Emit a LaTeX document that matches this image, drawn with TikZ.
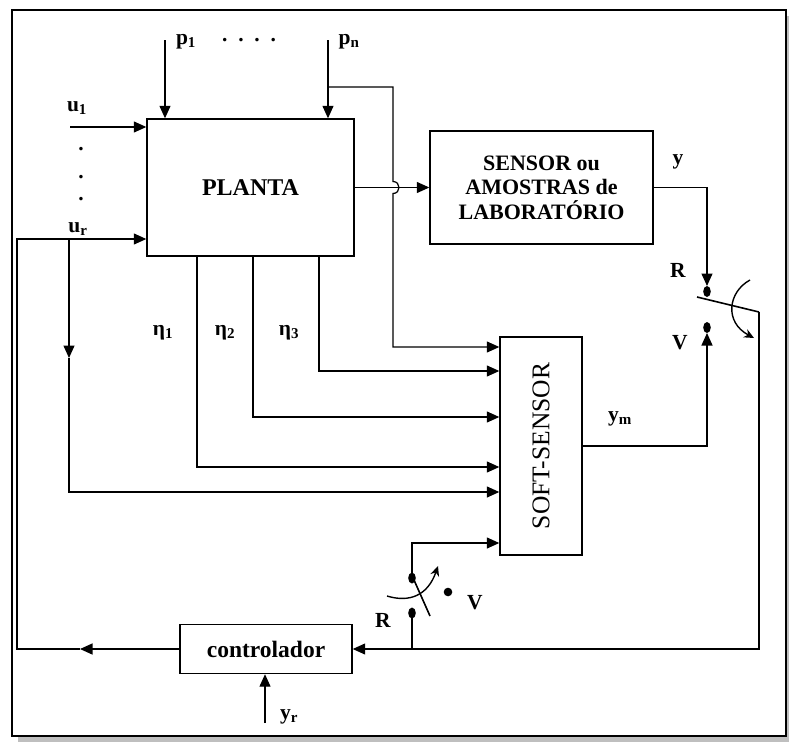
\documentclass[tikz,border=0pt]{standalone}
\usepackage{fontspec}
\setmainfont{Liberation Serif}
\usetikzlibrary{arrows.meta}
\begin{document}
\begin{tikzpicture}[x=1pt,y=-1pt,line width=1.25pt,
  arr/.style={-{Triangle[length=12.5pt,width=11pt]}},
  blk/.style={draw,line width=1.4pt,inner sep=0pt,align=center,font=\fontsize{22}{24.5}\selectfont\bfseries},
  lbl/.style={inner sep=0pt,font=\fontsize{21.5}{22}\selectfont\bfseries},
  gr/.style={inner sep=0pt,font=\fontsize{21.5}{22}\selectfont\bfseries}]
\useasboundingbox (0,0) rectangle (789,742);
% frame with shadow
\fill[gray!50] (18,736) rectangle (789,742);
\fill[gray!50] (786,16) rectangle (789,742);
\fill[white] (12,10) rectangle (786,736);
\draw[line width=1.7pt] (12,10) rectangle (786,736);
% blocks
\node[blk,minimum width=207pt,minimum height=137pt,font=\fontsize{24}{26}\selectfont\bfseries] (planta) at (250.5,187.5) {PLANTA};
\node[blk,minimum width=223pt,minimum height=113pt] (sensor) at (541.5,187.5) {SENSOR ou\\AMOSTRAS de\\LABORAT\'ORIO};
\node[draw,line width=1.4pt,minimum width=82pt,minimum height=218pt] (soft) at (541,446) {};
\node[rotate=90,inner sep=0pt,font=\fontsize{25.5}{27}\selectfont] (softlbl) at (soft.center) {SOFT-SENSOR};
\node[blk,minimum width=172pt,minimum height=49pt,font=\fontsize{23.5}{25}\selectfont\bfseries] (ctrl) at (266,649) {controlador};
% labels
\node[lbl] (lp1) at (186,42) {p\textsubscript{1}};
\node[lbl] (ldots) at (249,40) {.\ \ .\ \ .\ \ .};
\node[lbl] (lpn) at (349,42) {p\textsubscript{n}};
\node[lbl] (lu1) at (77,108) {u\textsubscript{1}};
\node[lbl] (vd1) at (81,149) {.};
\node[lbl] (vd2) at (81,177) {.};
\node[lbl] (vd3) at (81,199) {.};
\node[lbl] (lur) at (78,229) {u\textsubscript{r}};
\node[gr] (le1) at (163,333) {η\textsubscript{1}};
\node[gr] (le2) at (225,333) {η\textsubscript{2}};
\node[gr] (le3) at (289,333) {η\textsubscript{3}};
\node[lbl] (ly) at (678,162) {y};
\node[lbl] (lRt) at (678,270) {R};
\node[lbl] (lVt) at (680,343) {V};
\node[lbl] (lym) at (620,419) {y\textsubscript{m}};
\node[lbl] (lRb) at (383,620) {R};
\node[lbl] (lVb) at (475,603) {V};
\node[lbl] (lyr) at (289,717) {y\textsubscript{r}};
% coordinates
\coordinate (p1s) at (165,40);
\coordinate (pns) at (328,40);
\coordinate (pnb) at (328,87);
\coordinate (hk) at (393,87);
\coordinate (ha) at (393,181.5);
\coordinate (hb) at (393,193.5);
\coordinate (s1) at (393,347);
\coordinate (s2) at (319,371);
\coordinate (s3) at (253,417);
\coordinate (s4) at (197,467);
\coordinate (s5) at (69,492);
\coordinate (s6) at (412,543);
\coordinate (u1s) at (70,127);
\coordinate (urj) at (69,239);
\coordinate (urm) at (69,358);
\coordinate (cm) at (80,649);
\coordinate (lc) at (17,649);
\coordinate (lt) at (17,239);
\coordinate (yc) at (707,187.5);
\coordinate (rTa) at (707,286);
\coordinate (rT) at (707,291.5);
\coordinate (vT) at (707,327.5);
\coordinate (vTa) at (707,333);
\coordinate (ymc) at (707,446);
\coordinate (bl1) at (697,297);
\coordinate (bl2) at (759,312);
\coordinate (fr) at (759,649);
\coordinate (jn) at (412,649);
\coordinate (rB) at (412,613);
\coordinate (rBu) at (412,578);
\coordinate (vB) at (448,592);
% inputs to planta
\draw[arr] (p1s) -- (p1s |- planta.north);
\draw[arr] (pns) -- (pns |- planta.north);
\draw[arr] (u1s) -- (u1s -| planta.west);
% pn branch with hop
\draw[arr] (pnb) -- (hk) -- (ha) .. controls (401,181.5) and (401,193.5) .. (hb) -- (s1) -- (s1 -| soft.west);
% planta to sensor
\draw[arr] (planta.east) -- (sensor.west);
% eta outputs
\draw[arr] (s2 |- planta.south) -- (s2) -- (s2 -| soft.west);
\draw[arr] (s3 |- planta.south) -- (s3) -- (s3 -| soft.west);
\draw[arr] (s4 |- planta.south) -- (s4) -- (s4 -| soft.west);
% ur branch
\draw[arr] (urj) -- (urm);
\draw[arr] (urm) -- (s5) -- (s5 -| soft.west);
% controller output loop
\draw[arr] (ctrl.west |- cm) -- (cm);
\draw[arr] (cm) -- (lc) -- (lt) -- (lt -| planta.west);
% yr
\coordinate (yrs) at (265,723);
\draw[arr] (yrs) -- (yrs |- ctrl.south);
% sensor output y to switch
\draw[arr] (sensor.east |- yc) -- (yc) -- (rTa);
% ym to switch
\draw[arr] (soft.east) -- (ymc) -- (vTa);
% top switch
\fill (rT) ellipse [x radius=3.8pt,y radius=5.5pt];
\fill (vT) ellipse [x radius=3.8pt,y radius=5.5pt];
\draw[line width=1.6pt] (bl1) -- (bl2);
\draw[line width=1.4pt,-{Stealth[length=10pt,width=9pt]}] (750,280) .. controls (728,292) and (724,322) .. (754,338);
% switch output to controller
\draw[arr] (bl2) -- (fr) -- (ctrl.east |- fr);
% bottom switch
\draw (jn) -- (rB);
\draw[arr] (rBu) -- (s6) -- (s6 -| soft.west);
\fill (rB) ellipse [x radius=3.8pt,y radius=5.5pt];
\fill (rBu) ellipse [x radius=3.8pt,y radius=5.5pt];
\fill (vB) circle [radius=4.3pt];
\draw[line width=1.6pt] (430,616) -- (414,580);
\draw[line width=1.4pt,-{Stealth[length=10pt,width=9pt]}] (387,596) .. controls (410,603) and (428,595) .. (438,566);
\end{tikzpicture}
\end{document}
